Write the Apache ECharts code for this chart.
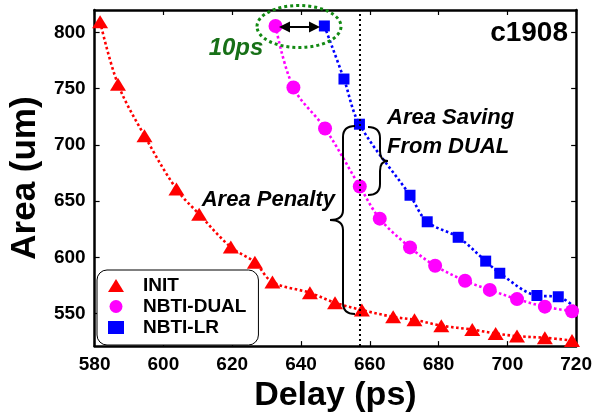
<!DOCTYPE html>
<html lang="en">
  <head>
    <meta charset="UTF-8" />
    <title>c1908 area vs delay</title>
    <script src="https://cdn.jsdelivr.net/npm/echarts@6.0.0/dist/echarts.min.js"></script>
    <style>
      body { margin: 0; background: #fff; }
    </style>
  </head>
  <body>
    <div id="main" style="width: 595px; height: 418px"></div>
    <script type="text/javascript">
      // values: [delay (ps), area (um)]
      const initDelay = [581.6, 586.8, 594.5, 603.8, 610.4, 619.6, 626.6, 631.7, 642.6, 649.9, 657.7, 666.8, 673.0, 680.8, 689.8, 696.6, 702.8, 710.9, 718.8];
      const initArea = [809.5, 753.9, 708.2, 660.7, 638.3, 609.1, 595.5, 578.0, 568.4, 559.6, 553.1, 547.0, 544.4, 539.2, 535.7, 532.2, 529.9, 528.4, 526.0];

      const dualDelay = [632.6, 637.8, 647.0, 657.1, 662.9, 671.7, 679.0, 687.7, 694.9, 702.8, 710.9, 718.8];
      const dualArea = [805.8, 751.0, 714.6, 663.0, 634.4, 608.8, 592.5, 579.1, 571.0, 562.8, 556.1, 552.0];

      const lrDelay = [646.8, 652.5, 657.0, 671.7, 676.7, 685.7, 693.7, 697.8, 708.6, 714.8, 719.2];
      const lrArea = [805.8, 758.6, 718.4, 655.2, 631.6, 617.8, 596.6, 585.8, 566.0, 564.9, 556.5];

      const xTicks = [580, 600, 620, 640, 660, 680, 700, 720];
      const yTicks = [550, 600, 650, 700, 750, 800];
      const markDelay = 657.2;

      const FONT = "Liberation Sans";

      function pairs(xs, ys) {
        return xs.map((x, i) => [x, ys[i]]);
      }

      const dotted = (color) => ({ color: color, width: 2.6, type: [2.6, 2.6] });

      // curly brace made of lines and quadratic curves
      // x: spine, d: +1 opens to the right ("{"), -1 opens left ("}")
      function brace(x, yTop, yMid, yBot, d, tip) {
        const st = { fill: "none", stroke: "#000", lineWidth: 2 };
        const r = 11;
        const els = [
          { type: "bezierCurve", shape: { x1: x + d * 12, y1: yTop, cpx1: x, cpy1: yTop, x2: x, y2: yTop + r } },
          { type: "line", shape: { x1: x, y1: yTop + r, x2: x, y2: yMid - 10 } },
          { type: "bezierCurve", shape: { x1: x, y1: yMid - 10, cpx1: x, cpy1: yMid, x2: x - d * tip, y2: yMid } },
          { type: "bezierCurve", shape: { x1: x - d * tip, y1: yMid, cpx1: x, cpy1: yMid, x2: x, y2: yMid + 10 } },
          { type: "line", shape: { x1: x, y1: yMid + 10, x2: x, y2: yBot - r } },
          { type: "bezierCurve", shape: { x1: x, y1: yBot - r, cpx1: x, cpy1: yBot, x2: x + d * 12, y2: yBot } },
        ];
        els.forEach((e) => { e.style = st; e.z = 11; });
        return els;
      }

      let myChart = echarts.init(document.getElementById("main"));

      const axisCommon = {
        axisLine: { show: true, onZero: false, lineStyle: { color: "#000", width: 2.5 } },
        axisTick: { inside: true, length: 5, lineStyle: { color: "#000", width: 1.2 } },
        splitLine: { show: false },
      };

      const tickLabel = {
        color: "#000",
        fontFamily: FONT,
        fontWeight: "bold",
        fontSize: 19,
        margin: 9,
      };

      let options = {
        animation: false,
        backgroundColor: "#fff",
        grid: { left: 92, right: 18, top: 10, bottom: 66 },
        xAxis: [
          {
            ...axisCommon,
            type: "value",
            min: 580,
            max: 720,
            position: "bottom",
            axisTick: { ...axisCommon.axisTick, customValues: xTicks },
            axisLabel: { ...tickLabel, customValues: xTicks },
            name: "Delay (ps)",
            nameLocation: "middle",
            nameGap: 23,
            nameTextStyle: { color: "#000", fontFamily: FONT, fontWeight: "bold", fontSize: 34 },
          },
          {
            ...axisCommon,
            type: "value",
            min: 580,
            max: 720,
            position: "top",
            axisTick: { ...axisCommon.axisTick, customValues: xTicks },
            axisLabel: { show: false },
          },
        ],
        yAxis: [
          {
            ...axisCommon,
            type: "value",
            min: 521,
            max: 820,
            position: "left",
            axisTick: { ...axisCommon.axisTick, customValues: yTicks },
            axisLabel: { ...tickLabel, customValues: yTicks },
            name: "Area (um)",
            nameLocation: "middle",
            nameGap: 50,
            nameTextStyle: { color: "#000", fontFamily: FONT, fontWeight: "bold", fontSize: 35 },
          },
          {
            ...axisCommon,
            type: "value",
            min: 521,
            max: 820,
            position: "right",
            axisTick: { ...axisCommon.axisTick, customValues: yTicks },
            axisLabel: { show: false },
          },
        ],
        legend: {
          orient: "vertical",
          left: 97,
          top: 270,
          padding: [5, 12, 7, 11],
          itemGap: 0,
          itemWidth: 16,
          itemHeight: 13,
          borderColor: "#000",
          borderWidth: 1,
          borderRadius: 10,
          backgroundColor: "#fff",
          data: [
            { name: "INIT", icon: "triangle" },
            { name: "NBTI-DUAL", icon: "circle" },
            { name: "NBTI-LR", icon: "rect" },
          ],
          textStyle: {
            color: "#000",
            fontFamily: FONT,
            fontWeight: "bold",
            fontSize: 19,
            lineHeight: 21,
            padding: [0, 0, 0, 14],
          },
        },
        series: [
          {
            name: "INIT",
            type: "line",
            smooth: 0.35,
            data: pairs(initDelay, initArea),
            symbol: "triangle",
            symbolSize: [16, 13],
            itemStyle: { color: "#ff0000" },
            lineStyle: dotted("#ff0000"),
            z: 2,
            markLine: {
              silent: true,
              symbol: "none",
              label: { show: false },
              lineStyle: { color: "#000", width: 2, type: [2, 3] },
              data: [{ xAxis: markDelay }],
            },
          },
          {
            name: "NBTI-LR",
            type: "line",
            smooth: 0.35,
            data: pairs(lrDelay, lrArea),
            symbol: "rect",
            // the last LR square sits under the DUAL circle in the figure
            symbolSize: (v, p) => (p.dataIndex === lrDelay.length - 1 ? 0 : 11),
            itemStyle: { color: "#0000ff" },
            lineStyle: dotted("#0000ff"),
            z: 3,
          },
          {
            name: "NBTI-DUAL",
            type: "line",
            smooth: 0.35,
            data: pairs(dualDelay, dualArea),
            symbol: "circle",
            symbolSize: 14,
            itemStyle: { color: "#ff00ff" },
            lineStyle: dotted("#ff00ff"),
            z: 4,
          },
        ],
        graphic: [
          // green dotted ellipse round the 10ps gap
          {
            type: "ellipse",
            shape: { cx: 299, cy: 26.5, rx: 42, ry: 21 },
            style: { fill: "none", stroke: "#138a13", lineWidth: 3, lineDash: [3, 3] },
            z: 10,
          },
          {
            type: "line",
            shape: { x1: 285, y1: 27, x2: 314, y2: 27 },
            style: { stroke: "#000", lineWidth: 2 },
            z: 11,
          },
          {
            type: "polygon",
            shape: { points: [[279, 27], [290, 21.5], [290, 32.5]] },
            style: { fill: "#000" },
            z: 11,
          },
          {
            type: "polygon",
            shape: { points: [[320, 27], [309, 21.5], [309, 32.5]] },
            style: { fill: "#000" },
            z: 11,
          },
          {
            type: "text",
            style: {
              x: 236, y: 48, text: "10ps", textAlign: "center", textVerticalAlign: "middle",
              fill: "#177017", fontFamily: FONT, fontWeight: "bold", fontStyle: "italic", fontSize: 24,
            },
            z: 11,
          },
          {
            type: "text",
            style: {
              x: 568, y: 33, text: "c1908", textAlign: "right", textVerticalAlign: "middle",
              fill: "#000", fontFamily: FONT, fontWeight: "bold", fontSize: 28,
            },
            z: 11,
          },
          ...brace(343, 126, 220, 314, 1, 13),
          ...brace(380, 127, 161, 195, -1, 8),
          {
            type: "text",
            style: {
              x: 335, y: 200, text: "Area Penalty", textAlign: "right", textVerticalAlign: "middle",
              fill: "#000", fontFamily: FONT, fontWeight: "bold", fontStyle: "italic", fontSize: 22,
            },
            z: 11,
          },
          {
            type: "text",
            style: {
              x: 387, y: 132, text: "Area Saving\nFrom DUAL", textAlign: "left", textVerticalAlign: "middle",
              lineHeight: 29,
              fill: "#000", fontFamily: FONT, fontWeight: "bold", fontStyle: "italic", fontSize: 22,
            },
            z: 11,
          },
        ],
      };

      myChart.setOption(options);
    </script>
  </body>
</html>
